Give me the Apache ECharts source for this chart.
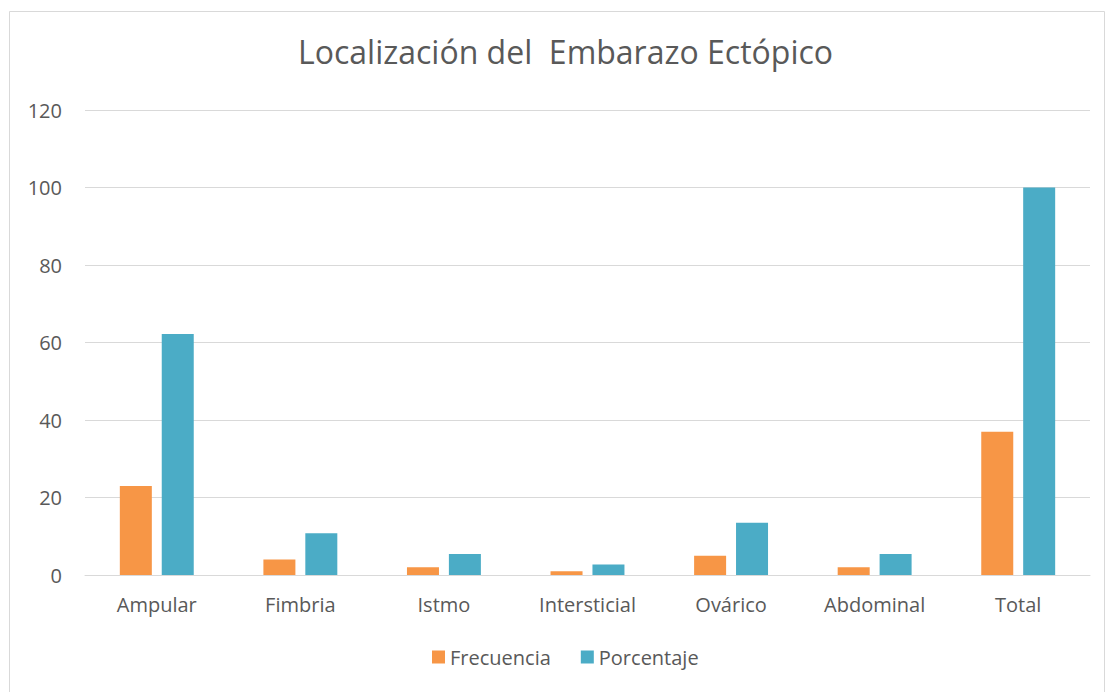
<!DOCTYPE html>
<html>
<head>
<meta charset="utf-8">
<script src="https://cdn.jsdelivr.net/npm/echarts@6/dist/echarts.min.js"></script>
<style>
  html, body { margin: 0; padding: 0; background: #fff; }
  #chart { width: 1107px; height: 692px; }
</style>
</head>
<body>
<div id="chart"></div>
<script>
const categories = ['Ampular', 'Fimbria', 'Istmo', 'Intersticial', 'Ovárico', 'Abdominal', 'Total'];
const frecuencia = [23, 4, 2, 1, 5, 2, 37];
const porcentaje = [62.2, 10.8, 5.4, 2.7, 13.5, 5.4, 100];

const textColor = '#595959';
const font = '"Open Sans", "Liberation Sans", sans-serif';

const chart = echarts.init(document.getElementById('chart'), null, {renderer: 'svg'});
chart.setOption({
  backgroundColor: '#fff',
  animation: false,
  title: {
    text: 'Localización del  Embarazo Ectópico',
    left: 293,
    top: 30,
    textStyle: {color: textColor, fontSize: 32, fontWeight: 'normal', fontFamily: font},
  },
  graphic: [{
    type: 'rect',
    shape: {x: 9.5, y: 11.5, width: 1095, height: 700},
    style: {fill: 'none', stroke: '#d9d9d9', lineWidth: 1},
    silent: true,
  }],
  legend: {
    bottom: 20,
    left: 427,
    itemWidth: 13,
    itemHeight: 13,
    itemGap: 30,
    icon: 'rect',
    textStyle: {color: textColor, fontSize: 20, fontFamily: font},
    data: ['Frecuencia', 'Porcentaje'],
  },
  grid: {left: 85, right: 17, top: 110, bottom: 117},
  xAxis: {
    type: 'category',
    data: categories,
    axisLine: {lineStyle: {color: '#d9d9d9', width: 1}},
    axisTick: {show: false},
    axisLabel: {color: textColor, fontSize: 20, fontFamily: font, margin: 19},
  },
  yAxis: {
    type: 'value',
    min: 0,
    max: 120,
    interval: 20,
    axisLine: {show: false},
    axisTick: {show: false},
    splitLine: {lineStyle: {color: '#d9d9d9', width: 1}},
    axisLabel: {color: textColor, fontSize: 20, fontFamily: font, margin: 23},
  },
  series: [
    {name: 'Frecuencia', type: 'bar', data: frecuencia, barWidth: 32, barGap: '31%',
     itemStyle: {color: '#F79646'}},
    {name: 'Porcentaje', type: 'bar', data: porcentaje, barWidth: 32,
     itemStyle: {color: '#4BACC6'}},
  ],
});
window.addEventListener('resize', () => chart.resize());
</script>
</body>
</html>
